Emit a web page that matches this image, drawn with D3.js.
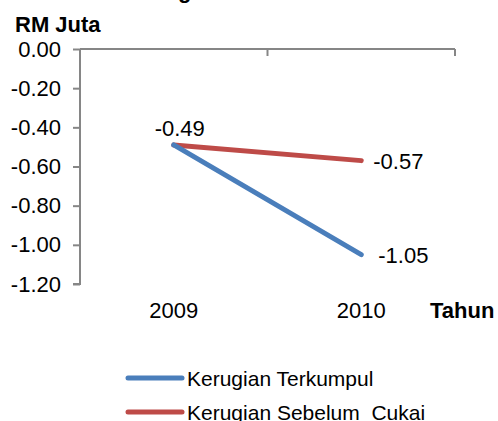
<!DOCTYPE html>
<html>
<head>
<meta charset="utf-8">
<script src="https://cdn.jsdelivr.net/npm/d3@7"></script>
<style>
  body { margin: 0; background: #fff; overflow: hidden; }
  svg { display: block; font-family: "Liberation Sans", Arial, sans-serif; }
</style>
</head>
<body>
<div id="chart"></div>
<script>
const years = ["2009", "2010"];
const seriesNames = ["Kerugian Terkumpul", "Kerugian Sebelum  Cukai"];
const terkumpul = [-0.49, -1.05];
const sebelumCukai = [-0.49, -0.57];
const yTicks = [0, -0.2, -0.4, -0.6, -0.8, -1.0, -1.2];

const width = 498;
const height = 421;
const colors = ["#4a7ebb", "#be4b48"];
const fontSize = "22px";
const fmt = (d) => d.toFixed(2);

const svg = d3
  .select("#chart")
  .append("svg")
  .attr("width", width)
  .attr("height", height);

// Scales
const yScale = d3.scaleLinear().domain([-1.2, 0]).range([284, 49]);
const xBand = d3.scaleBand().domain(years).range([80, 455]);
const xScale = d3.scalePoint().domain(years).range([80, 455]).padding(0.5);

// Title (cut off at top)
svg
  .append("text")
  .attr("x", 128)
  .attr("y", -2)
  .style("font-size", fontSize)
  .style("font-weight", "bold")
  .text("Kerugian");

svg
  .append("text")
  .attr("x", 15)
  .attr("y", 32)
  .style("font-size", fontSize)
  .style("font-weight", "bold")
  .text("RM Juta");

// Y axis
const yAxis = d3
  .axisLeft(yScale)
  .tickValues(yTicks)
  .tickSize(7)
  .tickPadding(12)
  .tickFormat(fmt);

const yG = svg.append("g").attr("transform", "translate(80,0)").call(yAxis);
yG.selectAll("path, line").attr("stroke", "#868686").attr("stroke-width", 2);
yG.select(".domain").attr("d", `M-7,${yScale(-1.2)}H0V${yScale(0)}`);
yG.selectAll("text")
  .style("font-size", fontSize)
  .attr("fill", "#000")
  .style("font-family", "'Liberation Sans', Arial, sans-serif");

// X axis line at zero with category boundary ticks
const bounds = years.map((d) => xBand(d)).concat([xBand.range()[1]]);
svg
  .append("line")
  .attr("x1", 80)
  .attr("x2", xBand.range()[1])
  .attr("y1", yScale(0))
  .attr("y2", yScale(0))
  .attr("stroke", "#868686")
  .attr("stroke-width", 2);
svg
  .selectAll(".xtick")
  .data(bounds)
  .enter()
  .append("line")
  .attr("x1", (d) => d)
  .attr("x2", (d) => d)
  .attr("y1", yScale(0))
  .attr("y2", yScale(0) + 7)
  .attr("stroke", "#868686")
  .attr("stroke-width", 2);

// Category labels (low position)
svg
  .selectAll(".xlabel")
  .data(years)
  .enter()
  .append("text")
  .attr("x", (d) => xScale(d))
  .attr("y", 318)
  .attr("text-anchor", "middle")
  .style("font-size", fontSize)
  .text((d) => d);

svg
  .append("text")
  .attr("x", 430)
  .attr("y", 318)
  .style("font-size", fontSize)
  .style("font-weight", "bold")
  .text("Tahun");

// Lines
const line = d3
  .line()
  .x((d, i) => xScale(years[i]))
  .y((d) => yScale(d));

[sebelumCukai, terkumpul].forEach((vals, k) => {
  svg
    .append("path")
    .datum(vals)
    .attr("d", line)
    .attr("fill", "none")
    .attr("stroke", colors[1 - k])
    .attr("stroke-width", 5)
    .attr("stroke-linecap", "round")
    .attr("stroke-linejoin", "round");
});

// Data labels
svg
  .append("text")
  .attr("x", xScale("2009") + 6)
  .attr("y", yScale(terkumpul[0]) - 9)
  .attr("text-anchor", "middle")
  .style("font-size", fontSize)
  .text(fmt(terkumpul[0]));

svg
  .append("text")
  .attr("x", xScale("2010") + 12)
  .attr("y", yScale(sebelumCukai[1]))
  .attr("dy", "0.36em")
  .style("font-size", fontSize)
  .text(fmt(sebelumCukai[1]));

svg
  .append("text")
  .attr("x", xScale("2010") + 17)
  .attr("y", yScale(terkumpul[1]))
  .attr("dy", "0.36em")
  .style("font-size", fontSize)
  .text(fmt(terkumpul[1]));

// Legend
const legend = svg
  .selectAll(".legend")
  .data(seriesNames)
  .enter()
  .append("g")
  .attr("transform", (d, i) => `translate(128, ${378 + i * 34})`);

legend
  .append("line")
  .attr("x1", 0)
  .attr("x2", 54)
  .attr("stroke", (d, i) => colors[i])
  .attr("stroke-width", 5)
  .attr("stroke-linecap", "round");

legend
  .append("text")
  .attr("x", 59)
  .attr("dy", "0.36em")
  .style("font-size", "21px")
  .style("white-space", "pre")
  .text((d) => d);
</script>
</body>
</html>
